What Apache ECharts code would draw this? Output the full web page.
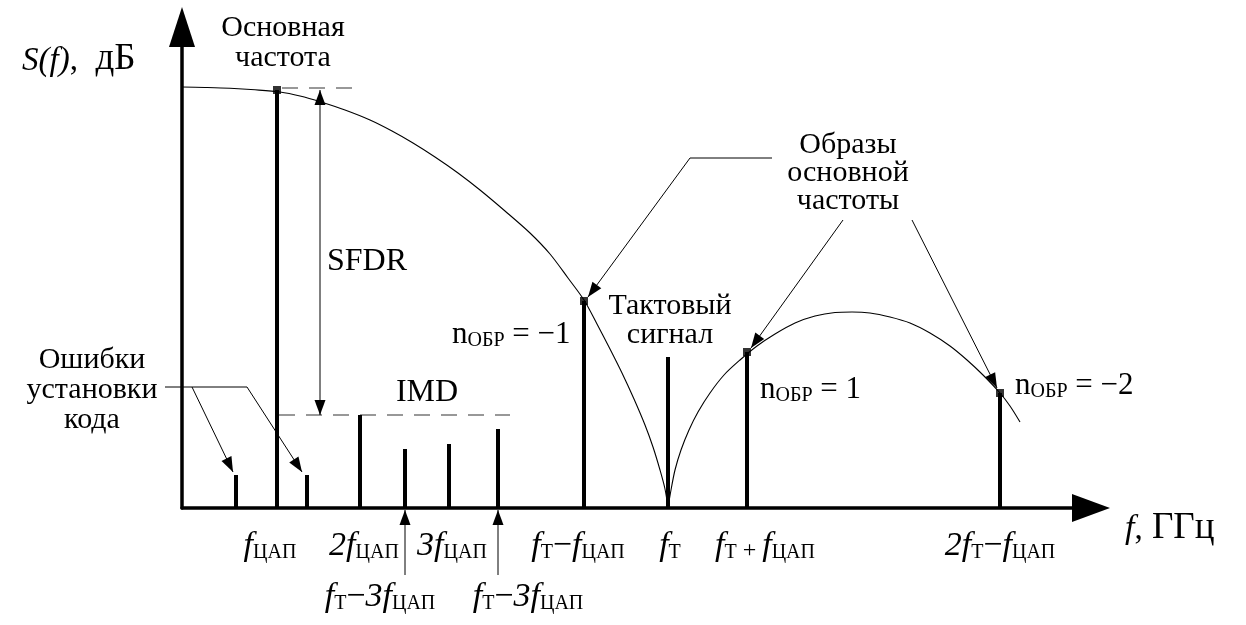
<!DOCTYPE html>
<html>
<head>
<meta charset="utf-8">
<script src="https://cdn.jsdelivr.net/npm/echarts@6/dist/echarts.min.js"></script>
<style>
  html, body { margin: 0; padding: 0; background: #fff; }
  #chart { width: 1246px; height: 625px; }
</style>
</head>
<body>
<div id="chart"></div>
<script>
// DAC output spectrum sketch: frequency along x, level (dB, arbitrary units) along y.

// Spectral lines: code-setting glitches, fundamental, IMD products, images, clock feedthrough
const lineFreq  = [54, 95, 125, 178, 223, 267, 316, 402, 486, 565, 818];
const lineLevel = [33, 418, 33, 93, 59, 64, 79, 207, 151, 156, 115];

// Fundamental and its images sit on the sin(x)/x envelope
const markedFreq  = [95, 402, 565, 818];
const markedLevel = [418, 207, 156, 115];

// sin(x)/x envelope, main lobe and first side lobe
const mainLobeFreq  = [0, 23, 48, 73, 98, 118, 139, 163, 188, 210, 231, 253, 276, 298, 323, 348, 368, 386, 402, 415, 428, 440, 452, 463, 471, 478, 483, 486];
const mainLobeLevel = [421, 420.5, 419.7, 418.2, 416, 412, 406, 398, 388, 377, 365, 351, 335, 318, 297, 275, 254, 230, 208, 184, 159, 135, 109, 83, 61, 38, 19, 0];
const sideLobeFreq  = [486, 489, 493, 499, 507, 516, 528, 542, 558, 575, 593, 613, 633, 653, 670, 688, 708, 728, 748, 768, 785, 801, 818, 828, 838];
const sideLobeLevel = [0, 18, 38, 58, 78, 96, 115, 133, 148, 162, 174, 185, 192, 195.5, 196, 195, 191, 185, 175, 162, 148, 133, 115, 102, 86];

// Reference levels: fundamental (top of SFDR) and strongest IMD product
const sfdrTopFreq = [100, 173];
const sfdrTopLevel = 420;
const imdFreq = [97, 328];
const imdLevel = 93;
const sfdrFreq = 138;

// Axis extent
const freqMax = 890;
const levelMax = 461;

// Tick captions under the axis
const tickLabels = [
  { f: 88,  row: 1, text: '{fi|f}{sub|ЦАП}' },
  { f: 182, row: 1, text: '{fi|2f}{sub|ЦАП}' },
  { f: 270, row: 1, text: '{fi|3f}{sub|ЦАП}' },
  { f: 396, row: 1, text: '{fi|f}{sub|Т}{op|−}{fi|f}{sub|ЦАП}' },
  { f: 488, row: 1, text: '{fi|f}{sub|Т}' },
  { f: 583, row: 1, text: '{fi|f}{sub|Т}{pl| + }{fi|f}{sub|ЦАП}' },
  { f: 818, row: 1, text: '{fi|2f}{sub|Т}{op|−}{fi|f}{sub|ЦАП}' },
  { f: 198, row: 2, text: '{fi|f}{sub|Т}{op|−}{fi|3f}{sub|ЦАП}' },
  { f: 346, row: 2, text: '{fi|f}{sub|Т}{op|−}{fi|3f}{sub|ЦАП}' }
];
const tickRowLevel = { 1: -38, 2: -89 };

const chart = echarts.init(document.getElementById('chart'), null, { renderer: 'canvas' });

const serif = '"Liberation Serif", "DejaVu Serif", serif';
const black = '#000';

const option = {
  backgroundColor: '#fff',
  animation: false,
  grid: { left: 182, right: 174, top: 47, bottom: 117, containLabel: false },
  xAxis: {
    type: 'value', min: 0, max: freqMax,
    axisLine: { show: true, onZero: false, symbol: ['none', 'triangle'], symbolSize: [28, 38], symbolOffset: [0, 19],
                lineStyle: { color: black, width: 3.5 } },
    axisTick: { show: false }, axisLabel: { show: false }, splitLine: { show: false }
  },
  yAxis: {
    type: 'value', min: 0, max: levelMax,
    axisLine: { show: true, onZero: false, symbol: ['none', 'triangle'], symbolSize: [26, 40], symbolOffset: [0, 20],
                lineStyle: { color: black, width: 3.5 } },
    axisTick: { show: false }, axisLabel: { show: false }, splitLine: { show: false }
  },
  series: [
    {
      type: 'line', name: 'envelope-main', smooth: 0.3, symbol: 'none', silent: true,
      lineStyle: { color: black, width: 1.1 },
      data: mainLobeFreq.map((f, i) => [f, mainLobeLevel[i]]), z: 2
    },
    {
      type: 'line', name: 'envelope-side', smooth: 0.3, symbol: 'none', silent: true,
      lineStyle: { color: black, width: 1.1 },
      data: sideLobeFreq.map((f, i) => [f, sideLobeLevel[i]]), z: 2
    },
    {
      type: 'line', name: 'fundamental-level', symbol: 'none', silent: true,
      lineStyle: { color: '#333', width: 1.1, type: [16, 11] },
      data: sfdrTopFreq.map(f => [f, sfdrTopLevel]), z: 2
    },
    {
      type: 'line', name: 'imd-level', symbol: 'none', silent: true,
      lineStyle: { color: '#333', width: 1.1, type: [16, 11] },
      data: imdFreq.map(f => [f, imdLevel]), z: 2
    },
    {
      type: 'bar', name: 'lines', barWidth: 4, silent: true,
      itemStyle: { color: black },
      data: lineFreq.map((f, i) => [f, lineLevel[i]]), z: 3
    },
    {
      type: 'scatter', name: 'marked', symbol: 'rect', symbolSize: 8, silent: true,
      itemStyle: { color: black },
      data: markedFreq.map((f, i) => [f, markedLevel[i]]), z: 4
    }
  ]
};
chart.setOption(option);

// ---- annotations, placed in chart units and converted through the grid ----
const px = p => chart.convertToPixel({ gridIndex: 0 }, p);

function arrowHead(tail, tip, len, wid) {
  const dx = tip[0] - tail[0], dy = tip[1] - tail[1];
  const d = Math.hypot(dx, dy), ux = dx / d, uy = dy / d;
  const bx = tip[0] - ux * len, by = tip[1] - uy * len;
  return {
    type: 'polygon', silent: true, z: 10,
    shape: { points: [[tip[0], tip[1]], [bx - uy * wid / 2, by + ux * wid / 2], [bx + uy * wid / 2, by - ux * wid / 2]] },
    style: { fill: black }
  };
}
function pointer(points, withHead) {
  const p = points.map(px);
  const els = [{ type: 'polyline', silent: true, z: 10, shape: { points: p }, style: { stroke: black, lineWidth: 1, fill: null } }];
  if (withHead) els.push(arrowHead(p[p.length - 2], p[p.length - 1], 15, 11));
  return els;
}

// leader lines from the captions
const glitchLeaderBar = [[-17, 121], [65, 121]];
const glitchPointers = [[[10, 121], [51, 36]], [[65, 121], [120, 36]]];
const imageLeaderBar = [[590, 350], [508, 350]];
const imagePointers = [[[508, 350], [406, 211]], [[661, 288], [569, 160]], [[730, 288], [815, 120]]];
const lowerTickPointers = [[[223, -67], [223, -2]], [[316, -67], [316, -2]]];

const gfx = [];
gfx.push(...pointer(glitchLeaderBar, false));
glitchPointers.forEach(p => gfx.push(...pointer(p, true)));
gfx.push(...pointer(imageLeaderBar, false));
imagePointers.forEach(p => gfx.push(...pointer(p, true)));
lowerTickPointers.forEach(p => gfx.push(...pointer(p, true)));
// SFDR double arrow between fundamental and IMD levels
gfx.push(...pointer([[sfdrFreq, imdLevel], [sfdrFreq, markedLevel[0]]], true));
gfx.push(arrowHead(px([sfdrFreq, markedLevel[0]]), px([sfdrFreq, imdLevel]), 15, 11));

const mathRich = {
  fi:  { fontFamily: serif, fontStyle: 'italic', fontSize: 34, fill: black, verticalAlign: 'bottom' },
  sub: { fontFamily: serif, fontSize: 20, fill: black, verticalAlign: 'bottom' },
  op:  { fontFamily: serif, fontSize: 34, fill: black, verticalAlign: 'bottom' },
  pl:  { fontFamily: serif, fontSize: 24, fill: black, verticalAlign: 'bottom' },
  n:   { fontFamily: serif, fontSize: 31, fill: black, verticalAlign: 'bottom' },
  i:   { fontFamily: serif, fontStyle: 'italic', fontSize: 33, fill: black, verticalAlign: 'bottom' },
  r:   { fontFamily: serif, fontSize: 33, fill: black, verticalAlign: 'bottom' },
  u:   { fontFamily: serif, fontSize: 37, fill: black, verticalAlign: 'bottom' }
};
function label(at, text, align, opts) {
  const p = px(at);
  return {
    type: 'text', silent: true, z: 12, x: p[0], y: p[1],
    style: Object.assign({ text: text, align: align, verticalAlign: 'middle', fill: black,
                           fontFamily: serif, fontSize: 30, rich: mathRich }, opts || {})
  };
}

gfx.push(label([-160, 449], '{i|S(f)}{r|, }{u| дБ}', 'left'));
gfx.push(label([101, 465], 'Основная\nчастота', 'center', { lineHeight: 30 }));
gfx.push(label([-90, 118], 'Ошибки\nустановки\nкода', 'center', { lineHeight: 30 }));
gfx.push(label([145, 246], 'SFDR', 'left', { fontSize: 32 }));
gfx.push(label([245, 115], 'IMD', 'center', { fontSize: 32 }));
gfx.push(label([270, 173], '{n|n}{sub|ОБР}{n| = −1}', 'left'));
gfx.push(label([488, 187], 'Тактовый\nсигнал', 'center', { lineHeight: 29 }));
gfx.push(label([666, 335], 'Образы\nосновной\nчастоты', 'center', { lineHeight: 28 }));
gfx.push(label([578, 118], '{n|n}{sub|ОБР}{n| = 1}', 'left'));
gfx.push(label([833, 122], '{n|n}{sub|ОБР}{n| = −2}', 'left'));
gfx.push(label([943, -20], '{fi|f}{r|,}{u| ГГц}', 'left'));
tickLabels.forEach(t => gfx.push(label([t.f, tickRowLevel[t.row]], t.text, 'center')));

chart.setOption({ graphic: gfx });
</script>
</body>
</html>
